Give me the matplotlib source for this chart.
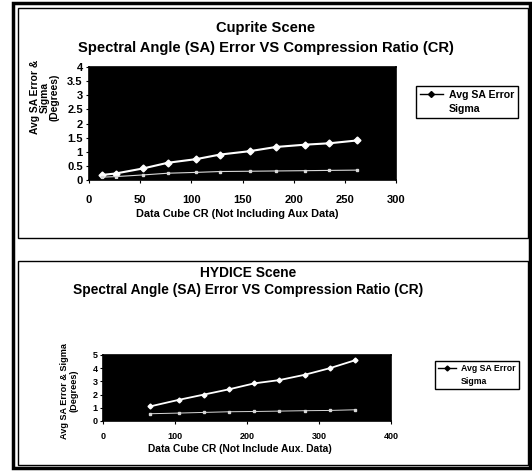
import numpy as np
import matplotlib
matplotlib.use("Agg")
from matplotlib import pyplot as plt
from matplotlib.patches import Rectangle

plt.rcParams['font.family'] = ['Liberation Sans', 'DejaVu Sans']
plt.rcParams['font.weight'] = 'bold'

W, H = 532, 471

# Cuprite scene
cup_cr = [13, 26, 53, 77, 105, 128, 157, 183, 211, 235, 262]
cup_avg = [0.18, 0.23, 0.41, 0.61, 0.74, 0.90, 1.02, 1.17, 1.25, 1.30, 1.40]
cup_sigma = [0.10, 0.12, 0.18, 0.24, 0.27, 0.30, 0.31, 0.32, 0.33, 0.34, 0.35]

# HYDICE scene
hyd_cr = [65, 105, 140, 175, 210, 245, 280, 315, 350]
hyd_avg = [1.10, 1.60, 2.00, 2.40, 2.85, 3.10, 3.50, 4.00, 4.60]
hyd_sigma = [0.55, 0.60, 0.65, 0.70, 0.72, 0.75, 0.78, 0.80, 0.85]


def fx(px):
    return px / W


def fy(py):
    return 1 - py / H


def ax_rect(x0, y0, x1, y1):
    return [fx(x0), fy(y1), fx(x1) - fx(x0), fy(y0) - fy(y1)]


fig = plt.figure(figsize=(W / 100, H / 100), dpi=100)

# frames
fig.patches.append(Rectangle((fx(13), fy(468)), fx(530) - fx(13), fy(3) - fy(468),
                             transform=fig.transFigure, fill=False, lw=2.5, ec='black'))
fig.patches.append(Rectangle((fx(18), fy(238)), fx(528) - fx(18), fy(8) - fy(238),
                             transform=fig.transFigure, fill=False, lw=1, ec='black'))
fig.patches.append(Rectangle((fx(18), fy(465)), fx(528) - fx(18), fy(261) - fy(465),
                             transform=fig.transFigure, fill=False, lw=1, ec='black'))

##### Cuprite
ax1 = fig.add_axes(ax_rect(89, 67, 396, 180))
ax1.set_facecolor('black')
ax1.plot(cup_cr, cup_avg, color='white', marker='D', ms=3.5, lw=1.5)
ax1.plot(cup_cr, cup_sigma, color='#d8d8d8', marker='s', ms=2, lw=0.8)
ax1.set_xlim(0, 300)
ax1.set_ylim(0, 4)
ax1.set_xticks(np.arange(0, 301, 50))
ax1.set_yticks(np.arange(0, 4.01, 0.5))
ax1.set_yticklabels(['0', '0.5', '1', '1.5', '2', '2.5', '3', '3.5', '4'])
ax1.tick_params(labelsize=8, length=2.5, width=0.8, pad=2)
ax1.tick_params(axis='x', pad=8)
for s in ax1.spines.values():
    s.set_linewidth(1.2)

fig.text(fx(266), fy(28), 'Cuprite Scene', ha='center', va='center', fontsize=10.6, weight='bold')
fig.text(fx(266), fy(48), 'Spectral Angle (SA) Error VS Compression Ratio (CR)',
         ha='center', va='center', fontsize=10.6, weight='bold')
fig.text(fx(237), fy(214), 'Data Cube CR (Not Including Aux Data)', ha='center', va='center',
         fontsize=7.8, weight='bold')
fig.text(fx(45), fy(97), 'Avg SA Error &\nSigma\n(Degrees)', ha='center', va='center',
         rotation=90, fontsize=7.4, weight='bold', linespacing=1.0)

leg_avg = plt.Line2D([], [], color='black', marker='D', ms=3, lw=1)
leg_sig = plt.Line2D([], [], color='white', lw=1)
lg1 = fig.legend([leg_avg, leg_sig], ['Avg SA Error', 'Sigma'], loc='center',
                 bbox_to_anchor=(fx(467), fy(102)), fontsize=7.6, frameon=True,
                 fancybox=False, edgecolor='black', framealpha=1, borderpad=0.35,
                 handlelength=2.2, labelspacing=0.45, handletextpad=0.6)
lg1.get_frame().set_linewidth(1)

##### HYDICE
ax2 = fig.add_axes(ax_rect(103, 355, 391, 421))
ax2.set_facecolor('black')
ax2.plot(hyd_cr, hyd_avg, color='white', marker='D', ms=2.5, lw=1.3)
ax2.plot(hyd_cr, hyd_sigma, color='#d8d8d8', marker='s', ms=1.5, lw=0.7)
ax2.set_xlim(0, 400)
ax2.set_ylim(0, 5)
ax2.set_xticks(np.arange(0, 401, 100))
ax2.set_yticks(np.arange(0, 6, 1))
ax2.tick_params(labelsize=6.5, length=2, width=0.8, pad=2)
ax2.tick_params(axis='x', pad=6)
for s in ax2.spines.values():
    s.set_linewidth(1.2)

fig.text(fx(248), fy(273), 'HYDICE Scene', ha='center', va='center', fontsize=9.9, weight='bold')
fig.text(fx(248), fy(290), 'Spectral Angle (SA) Error VS Compression Ratio (CR)',
         ha='center', va='center', fontsize=9.9, weight='bold')
fig.text(fx(240), fy(449), 'Data Cube CR (Not Include Aux. Data)', ha='center', va='center',
         fontsize=7.4, weight='bold')
fig.text(fx(69), fy(391), 'Avg SA Error & Sigma\n(Degrees)', ha='center', va='center',
         rotation=90, fontsize=6.6, weight='bold', linespacing=1.1)

leg_avg2 = plt.Line2D([], [], color='black', marker='D', ms=2.5, lw=1)
leg_sig2 = plt.Line2D([], [], color='white', lw=1)
lg2 = fig.legend([leg_avg2, leg_sig2], ['Avg SA Error', 'Sigma'], loc='center',
                 bbox_to_anchor=(fx(477), fy(375)), fontsize=6.3, frameon=True,
                 fancybox=False, edgecolor='black', framealpha=1, borderpad=0.35,
                 handlelength=2.0, labelspacing=0.45, handletextpad=0.6)
lg2.get_frame().set_linewidth(1)

fig.savefig('out.png', dpi=100)
